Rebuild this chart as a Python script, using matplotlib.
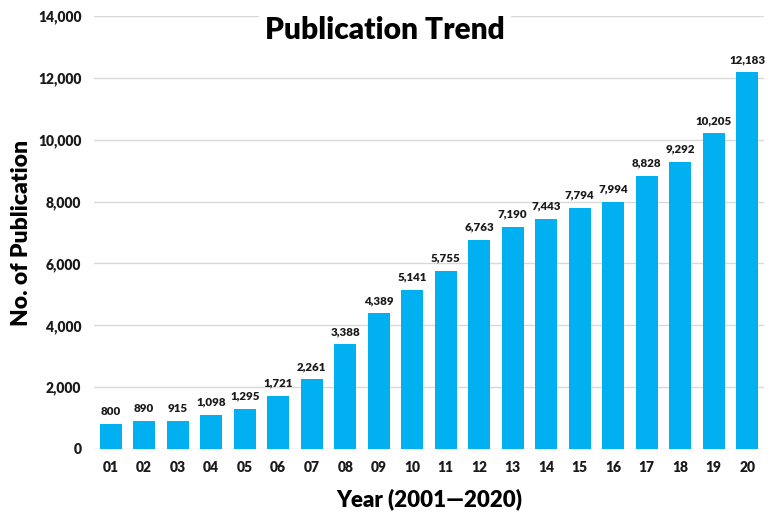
import matplotlib
matplotlib.use("Agg")
import matplotlib.pyplot as plt

years = ["01","02","03","04","05","06","07","08","09","10",
         "11","12","13","14","15","16","17","18","19","20"]
counts = [800, 890, 915, 1098, 1295, 1721, 2261, 3388, 4389, 5141,
          5755, 6763, 7190, 7443, 7794, 7994, 8828, 9292, 10205, 12183]
yticks = [0, 2000, 4000, 6000, 8000, 10000, 12000, 14000]

plt.rcParams['font.family'] = ['Lato', 'DejaVu Sans']
W = "heavy"

fig = plt.figure(figsize=(7.75, 5.15), dpi=100)
ax = fig.add_axes([94/775, 66/515, 670/775, 433/515])

x = list(range(len(years)))
ax.bar(x, counts, width=0.66, color="#00B0F0", zorder=2)
for xi, v in zip(x, counts):
    ax.text(xi, v + 230, f"{v:,}", ha="center", va="bottom",
            fontsize=8.3, fontweight=W, color="#1a1a1a", zorder=3)

ax.set_xlim(-0.5, len(years) - 0.5)
ax.set_ylim(0, 14000)
ax.set_yticks(yticks)
ax.set_yticklabels([f"{t:,}" for t in yticks], fontsize=10, fontweight=W, color="#1a1a1a")
ax.set_xticks(x)
ax.set_xticklabels(years, fontsize=10, fontweight=W, color="#1a1a1a")
ax.tick_params(length=0, pad=9)
ax.grid(axis="y", color="#d9d9d9", linewidth=1, zorder=0)
for s in ax.spines.values():
    s.set_visible(False)

ax.set_xlabel("Year (2001\u20142020)", fontsize=16, fontweight=W, labelpad=10)
ax.set_ylabel("No. of Publication", fontsize=16.5, fontweight=W, labelpad=4)

fig.text(385/775, 1 - 30/515, "Publication Trend", ha="center", va="center",
         fontsize=21.5, fontweight=W, color="black",
         bbox=dict(facecolor="white", edgecolor="none", pad=4), zorder=5)

fig.savefig("out.png", dpi=100)
